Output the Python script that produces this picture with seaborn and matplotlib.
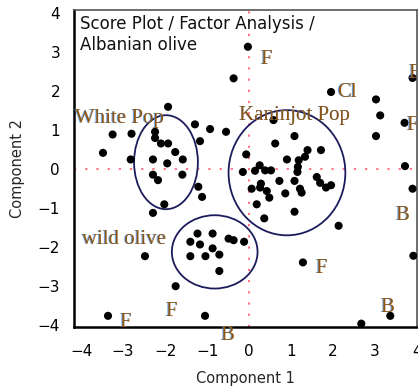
import numpy as np
import pandas as pd
import matplotlib
matplotlib.use("Agg")
import matplotlib.pyplot as plt
from matplotlib.patches import Ellipse
from matplotlib.transforms import offset_copy
import seaborn as sns

# Factor scores (Component 1, Component 2)
pc1 = [-1.93, -3.25, -2.80, -2.24, -2.24, -2.10, -1.93, -1.76, -3.48, -2.82,
       -2.29, -1.95, -1.58, -2.29, -2.17, -1.59, -1.29, -1.17, -1.21, -1.12,
       -2.02, -2.29, -0.93, -0.55,
       -2.48, -1.75, -3.36, -1.05,
       -1.23, -0.87, -1.40, -1.17, -0.49, -0.37, -0.12, -0.87, -1.40, -1.04,
       -0.71, -0.71,
       0.58, 1.08, 0.62, -0.07, 1.39, 1.71, 0.90, 1.18, 1.33, 0.25,
       1.16, 0.38, 0.52, 0.14, -0.15, 1.15, 1.61, 0.28, 0.72, 1.08,
       1.69, 1.83, 1.95, 0.06, 0.26, 0.42, 0.86, 1.21, 1.25, 0.48,
       1.08, 0.18, 0.36,
       -0.03, -0.37, 1.95, 3.02, 3.12, 3.02, 3.89, 3.70, 3.71, 3.89,
       2.13, 3.91, 1.28, 2.67, 3.36]
pc2 = [1.60, 0.89, 0.91, 0.96, 0.80, 0.66, 0.66, 0.44, 0.42, 0.25,
       0.25, 0.15, 0.25, -0.14, -0.28, -0.14, 1.15, 0.72, -0.45, -0.71,
       -0.90, -1.12, 1.03, 0.96,
       -2.23, -3.00, -3.76, -3.76,
       -1.65, -1.65, -1.86, -1.93, -1.78, -1.82, -1.86, -2.03, -2.23, -2.23,
       -2.19, -2.61,
       1.26, 0.85, 0.66, 0.38, 0.49, 0.49, 0.25, 0.23, 0.32, 0.10,
       0.06, -0.03, -0.03, -0.04, -0.07, -0.07, -0.20, -0.37, -0.30, -0.30,
       -0.35, -0.47, -0.41, -0.50, -0.47, -0.56, -0.62, -0.50, -0.60, -0.73,
       -1.09, -0.90, -1.26,
       3.14, 2.33, 1.98, 1.79, 1.38, 0.85, 2.34, 1.19, 0.08, -0.50,
       -1.45, -2.22, -2.39, -3.96, -3.76]

# Group ellipses: centre x, centre y, width, height
ell_x = [-1.98, 0.90, -0.82]
ell_y = [0.18, -0.09, -2.12]
ell_w = [1.52, 2.78, 2.04]
ell_h = [2.41, 3.21, 1.88]

# Annotations drawn on the plot
lab_text = ["White Pop", "Kaninjot Pop", "wild olive", "Cl", "F", "F", "B",
            "B", "F", "B", "F", "F", "B"]
lab_x = [-4.15, -0.23, -3.99, 2.09, 0.26, 3.74, 3.79,
         3.48, 1.57, 3.12, -2.00, -3.10, -0.69]
lab_y = [1.19, 1.26, -1.91, 1.85, 2.71, 1.00, 2.33,
         -1.31, -2.66, -3.66, -3.77, -4.05, -4.38]
lab_clip = [False, False, False, False, False, True, True,
            False, False, False, False, False, False]

df = pd.DataFrame({"Component 1": pc1, "Component 2": pc2})

sns.set_style("white")
plt.rcParams["font.family"] = ["DejaVu Sans"]

fig = plt.figure(figsize=(4.18, 3.89), dpi=100)
ax = fig.add_axes([0.177, 0.159, 0.821, 0.815])

# red dotted reference lines through the origin
ax.axhline(0, color="#ff6478", lw=1.3, ls=(0, (1.2, 5)), zorder=1)
ax.axvline(0, color="#ff6478", lw=1.3, ls=(0, (1.2, 5)), zorder=1)

sns.scatterplot(data=df, x="Component 1", y="Component 2", color="black",
                s=34, edgecolor="none", ax=ax, zorder=3)

for cx, cy, w, h in zip(ell_x, ell_y, ell_w, ell_h):
    ax.add_patch(Ellipse((cx, cy), w, h, fill=False, edgecolor="#1c1c5c",
                         lw=1.3, zorder=2))

# labels: faint blue fringe behind an orange-brown serif text
for t, x, y, c in zip(lab_text, lab_x, lab_y, lab_clip):
    shadow = offset_copy(ax.transData, fig=fig, x=-0.6, y=0.0, units="points")
    ax.text(x, y, t, transform=shadow, family="Liberation Serif", fontsize=15,
            color="#4a90e0", alpha=0.8, va="baseline", ha="left", clip_on=c,
            zorder=4)
    ax.text(x, y, t, family="Liberation Serif", fontsize=15, color="#8e5614",
            va="baseline", ha="left", clip_on=c, zorder=5)

ax.text(0.018, 0.985, "Score Plot / Factor Analysis /\nAlbanian olive",
        transform=ax.transAxes, fontsize=12, va="top", ha="left",
        linespacing=1.2, color="#111111")

ax.set_xlim(-4.17, 4.0)
ax.set_ylim(-4.05, 4.08)
ax.set_xticks(np.arange(-4, 5, 1))
ax.set_yticks(np.arange(-4, 5, 1))
ax.set_xlabel("Component 1", fontsize=10.5, labelpad=9)
ax.set_ylabel("Component 2", fontsize=10.5, labelpad=9)

ax.tick_params(axis="both", direction="out", length=6, width=1.6,
               colors="black", labelsize=11)
ax.tick_params(axis="x", pad=6)
ax.tick_params(axis="y", pad=4)

for side in ["left", "bottom"]:
    ax.spines[side].set_color("black")
    ax.spines[side].set_linewidth(1.8)
for side in ["top", "right"]:
    ax.spines[side].set_color("#555555")
    ax.spines[side].set_linewidth(1.2)

fig.savefig("out.png", dpi=100)
